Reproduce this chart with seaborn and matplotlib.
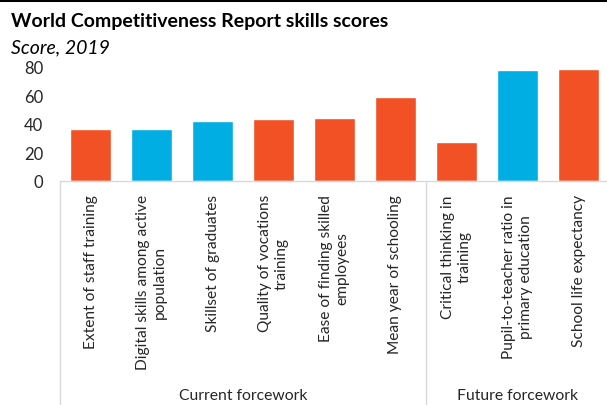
import matplotlib
matplotlib.use("Agg")
import matplotlib.pyplot as plt
from matplotlib.lines import Line2D
import seaborn as sns
import pandas as pd

# Skill indicators and their 2019 scores
categories = [
    "Extent of staff training",
    "Digital skills among active\npopulation",
    "Skillset of graduates",
    "Quality of vocations\ntraining",
    "Ease of finding skilled\nemployees",
    "Mean year of schooling",
    "Critical thinking in\ntraining",
    "Pupil-to-teacher ratio in\nprimary education",
    "School life expectancy",
]
scores = [36.5, 36.5, 42.0, 43.5, 44.0, 59.0, 27.0, 77.6, 78.1]
bar_colors = ["#F15125", "#00AEE3", "#00AEE3", "#F15125", "#F15125",
              "#F15125", "#F15125", "#00AEE3", "#F15125"]
groups = ["Current forcework", "Future forcework"]
group_sizes = [6, 3]
yticks = [0, 20, 40, 60, 80]

sns.set_theme(style="white")
plt.rcParams["font.family"] = ["Lato", "DejaVu Sans"]
TEXT = "#262626"
GRID = "#D9D9D9"

W, H = 607, 406
fig = plt.figure(figsize=(W / 100, H / 100), dpi=100)

# plot area in pixels: left 60, right 609, zero line at 182, top (80) at 67.5
left, right, y0, y80 = 60, 609, 182, 67.5
ax = fig.add_axes([left / W, 1 - y0 / H, (right - left) / W, (y0 - y80) / H])

df = pd.DataFrame({"category": categories, "score": scores})
sns.barplot(data=df, x="category", y="score", hue="category",
            palette=bar_colors, legend=False, width=0.67,
            saturation=1, ax=ax)

ax.set_xlim(-0.5, len(categories) - 0.5)
ax.set_ylim(0, 80)
ax.set_yticks(yticks)
ax.set_xlabel("")
ax.set_ylabel("")
for s in ("left", "right", "top"):
    ax.spines[s].set_visible(False)
ax.spines["bottom"].set_color(GRID)
ax.spines["bottom"].set_linewidth(1)
ax.tick_params(axis="y", length=0, pad=12, labelsize=12, labelcolor=TEXT)
ax.tick_params(axis="x", length=0, pad=9.5)
ax.set_xticks(range(len(categories)))
ax.set_xticklabels(categories, rotation=90, ha="center", va="top",
                   multialignment="center", fontsize=11.2, color=TEXT)

# group separators and group labels below the category axis
axis_h = y0 - y80
bottom_frac = -(H - y0) / axis_h
trans = ax.get_xaxis_transform()
edges = [-0.5]
for n in group_sizes:
    edges.append(edges[-1] + n)
for e in edges:
    ax.add_line(Line2D([e, e], [0, bottom_frac], transform=trans,
                       color=GRID, lw=1, clip_on=False))
label_y = -(396.5 - y0) / axis_h
for g, a, b in zip(groups, edges[:-1], edges[1:]):
    ax.text((a + b) / 2, label_y, g, transform=trans, ha="center",
            va="center", fontsize=11.3, color=TEXT)

# heading
fig.text(11 / W, 1 - 22 / H, "World Competitiveness Report skills scores",
         fontsize=14, fontweight="bold", color="#000000", va="center")
fig.text(11 / W, 1 - 48 / H, "Score, 2019", fontsize=14, style="italic",
         color="#000000", va="center")
fig.add_artist(Line2D([0, 1], [1 - 1 / H, 1 - 1 / H], transform=fig.transFigure,
                      color="#000000", lw=2.2))

fig.savefig("out.png", dpi=100)
